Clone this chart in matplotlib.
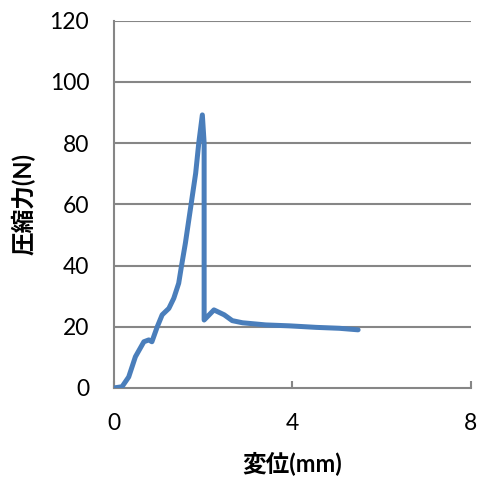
import numpy as np
import matplotlib
matplotlib.use('Agg')
import matplotlib.pyplot as plt

plt.rcParams['font.family'] = ['Lato', 'Noto Sans CJK JP', 'DejaVu Sans']

# displacement (mm) and compressive force (N)
disp = [0.0, 0.19, 0.34, 0.49, 0.68, 0.79, 0.86, 0.98, 1.09, 1.24, 1.35, 1.46,
        1.52, 1.61, 1.72, 1.84, 1.91, 1.99, 2.03, 2.03, 2.25, 2.48, 2.66, 2.89,
        3.41, 3.94, 4.54, 5.06, 5.48]
force = [0.0, 0.4, 3.6, 10.2, 15.1, 15.7, 15.1, 20.0, 23.9, 26.0, 29.3, 34.2,
         39.6, 47.3, 58.2, 70.1, 80.0, 89.2, 80.0, 22.2, 25.5, 23.9, 22.0, 21.3,
         20.6, 20.3, 19.8, 19.5, 19.0]

xticks = [0, 4, 8]
yticks = [0, 20, 40, 60, 80, 100, 120]

fig = plt.figure(figsize=(4.78, 4.79), dpi=100)
ax = fig.add_axes([0.2375, 0.19, 0.747, 0.767])

grid_c = '#868686'
ax.plot(disp, force, color='#4a7ebb', lw=3.6, solid_joinstyle='round',
        solid_capstyle='round', zorder=3)

ax.set_xlim(0, 8)
ax.set_ylim(0, 120)
ax.set_xticks(xticks)
ax.set_yticks(yticks)
for y in yticks[1:]:
    ax.axhline(y, color=grid_c, lw=1.5, zorder=1)

for s in ['top', 'right']:
    ax.spines[s].set_visible(False)
for s in ['left', 'bottom']:
    ax.spines[s].set_color(grid_c)
    ax.spines[s].set_linewidth(1.5)

ax.tick_params(axis='x', direction='in', length=5, width=1.5, color=grid_c,
               labelsize=16.5, pad=18)
ax.tick_params(axis='y', length=0, labelsize=16.5, pad=17.5)

ax.set_xlabel('変位(mm)', fontsize=17, fontweight='bold',
              family=['Lato', 'Noto Sans CJK JP'], labelpad=12)
ax.set_ylabel('圧縮力(N)', fontsize=17, fontweight='bold',
              family=['Lato', 'Noto Sans CJK JP'], labelpad=10)

fig.savefig('out.png', dpi=100)
